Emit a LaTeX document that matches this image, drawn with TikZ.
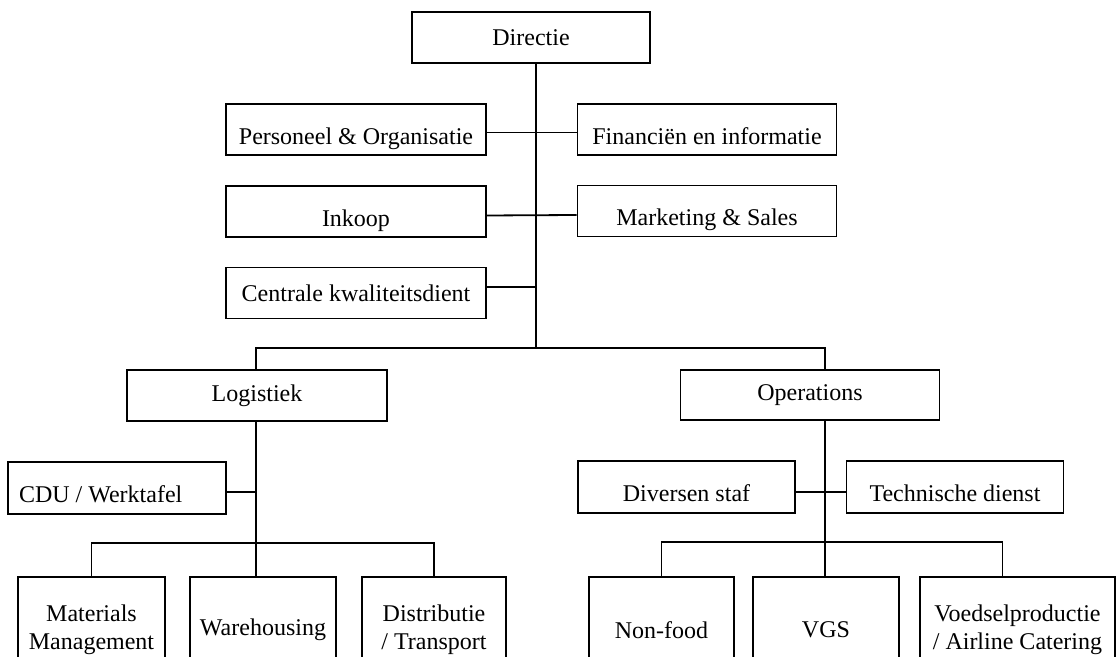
\documentclass[tikz,border=0pt]{standalone}
\usepackage{fontspec}
\setmainfont{Liberation Serif}
\usepackage{tikz}

\begin{document}
\begin{tikzpicture}[
  x=0.5pt,y=-0.5pt,
  unit/.style={draw,line width=0.9pt,minimum height=25.5pt,inner sep=2pt,align=center,font=\fontsize{12}{14}\selectfont},
  low/.style={text height=15pt,text depth=0pt},
  leaf/.style={unit,minimum height=53pt},
  link/.style={line width=0.9pt}
]
\useasboundingbox (0,0) rectangle (1116,657);
\clip (0,0) rectangle (1116,657);
% top level and staff
\node[unit,minimum width=119pt] (dir) at (531,37.5) {Directie};
\node[unit,low,minimum width=130pt] (po) at (356,129.5) {Personeel \& Organisatie};
\node[unit,low,minimum width=129.5pt] (fi) at (707,129.5) {Financiën en informatie};
\node[unit,low,minimum width=130pt] (ink) at (356,211.5) {Inkoop};
\node[unit,low,minimum width=129.5pt] (ms) at (707,211) {Marketing \& Sales};
\node[unit,minimum width=130pt] (ckd) at (356,293) {Centrale kwaliteitsdient};
% divisions
\node[unit,minimum width=130pt] (log) at (257,395.5) {Logistiek};
\node[unit,minimum width=129.5pt,minimum height=25pt] (ops) at (810,395) {Operations};
\node[unit,low,minimum width=109pt,minimum height=26pt,text width=98pt,align=flush left] (cdu) at (117,488) {CDU / Werktafel};
\node[unit,low,minimum width=108.5pt,minimum height=26pt] (div) at (686.5,487) {Diversen staf};
\node[unit,low,minimum width=108.5pt,minimum height=26pt] (tech) at (955,487) {Technische dienst};
% departments
\node[leaf,minimum width=73.5pt] (mm) at (91.5,630) {Materials\\Management};
\node[leaf,minimum width=73pt] (wh) at (263,630) {Warehousing};
\node[leaf,minimum width=72pt] (dt) at (434,630) {Distributie\\/ Transport};
\node[leaf,minimum width=72.5pt] (nf) at (661.5,630) {Non-food};
\node[leaf,minimum width=73pt] (vgs) at (826,630) {VGS};
\node[leaf,minimum width=97.5pt] (vp) at (1017.5,630) {Voedselproductie\\/ Airline Catering};
% bus points
\coordinate (bus) at (536,348);
\coordinate (lbus) at (256,543);
\coordinate (rbus) at (825,542);
% connectors
\draw[link] ([yshift=-1.5pt]po.east) -- ([yshift=-1.5pt]fi.west);
\draw[link] ([yshift=-2pt]ink.east) -- ([yshift=-2pt]ms.west);
\draw[link] ([yshift=3pt]ckd.east) -- ([yshift=3pt]ckd.east -| bus);
\draw[link] (dir.south -| bus) -- (bus);
\draw[link] (log.north -| lbus) |- (bus) -| (ops.north -| rbus);
\draw[link] (log.south -| lbus) -- (lbus);
\draw[link] ([yshift=-2pt]cdu.east) -- ([yshift=-2pt]cdu.east -| lbus);
\draw[link] (mm.north) |- (lbus) -| (dt.north);
\draw[link] (lbus) -- (wh.north -| lbus);
\draw[link] (ops.south -| rbus) -- (rbus);
\draw[link] ([yshift=-2.5pt]div.east) -- ([yshift=-2.5pt]tech.west);
\draw[link] (nf.north) |- (rbus) -| ([xshift=-7.5pt]vp.north);
\draw[link] (rbus) -- (vgs.north -| rbus);
\end{tikzpicture}
\end{document}
